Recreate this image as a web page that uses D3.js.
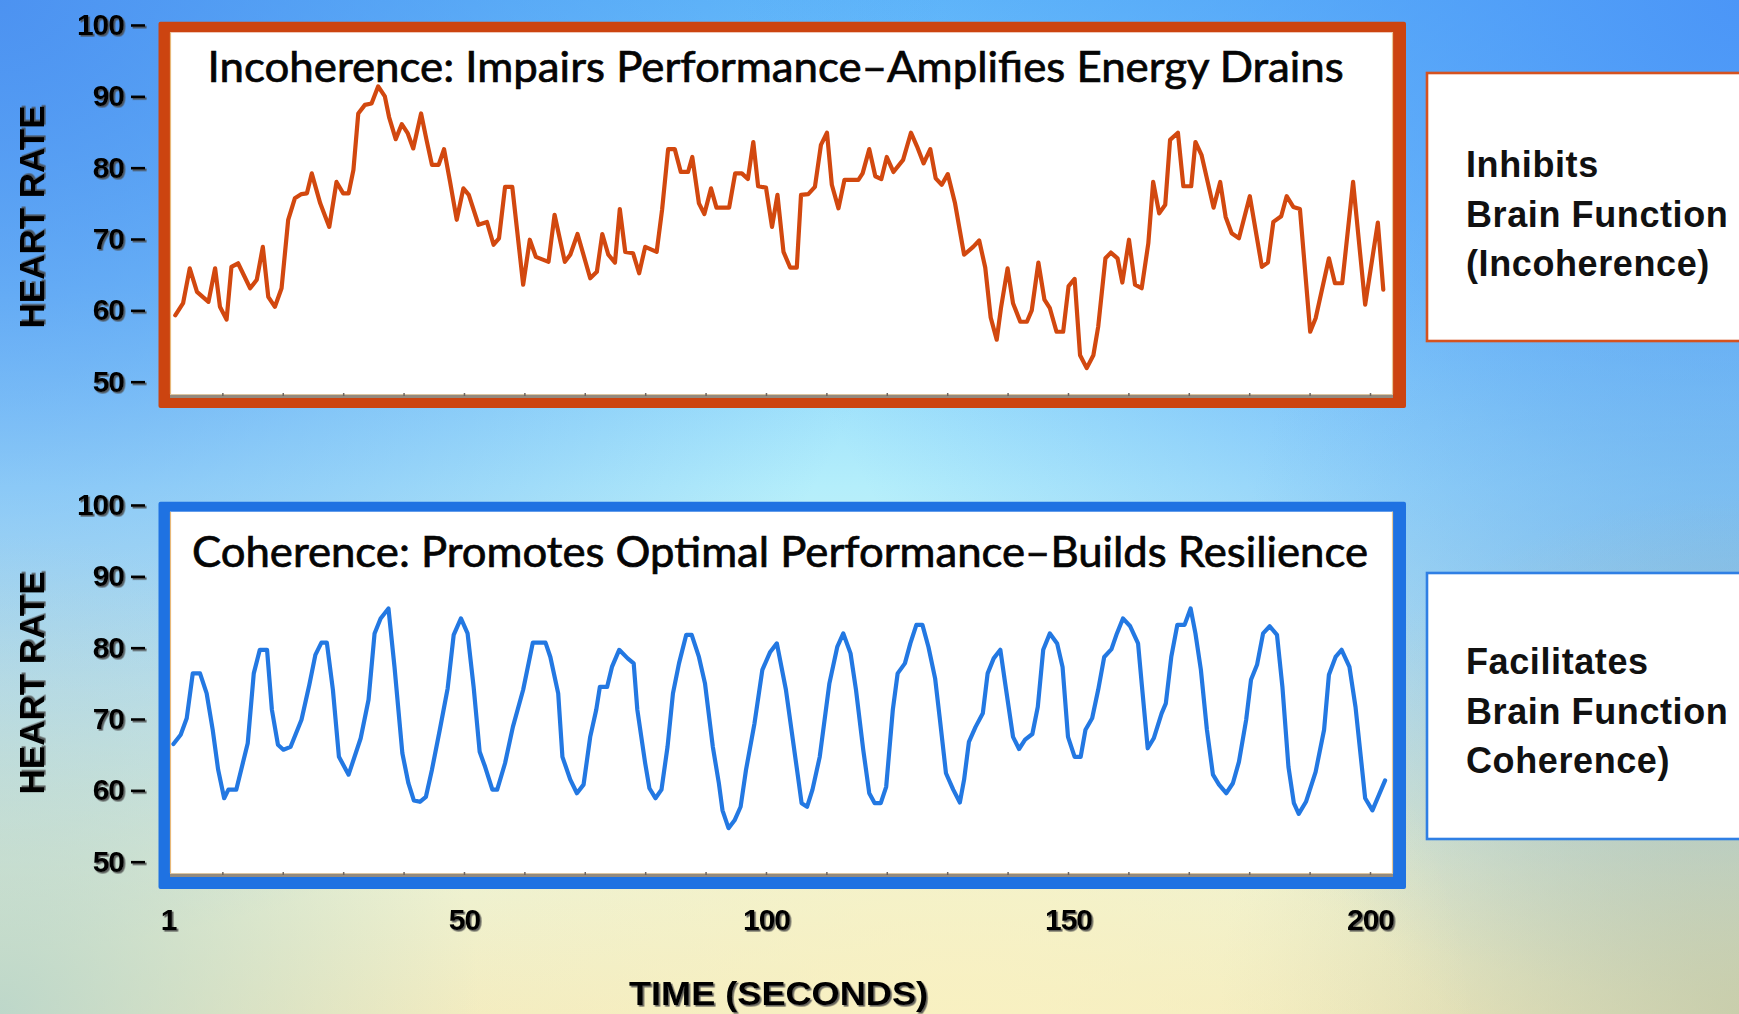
<!DOCTYPE html>
<html>
<head>
<meta charset="utf-8">
<script src="https://cdn.jsdelivr.net/npm/d3@7"></script>
<style>
  html, body { margin: 0; padding: 0; overflow: hidden; background: #8fd6f8; }
  svg { display: block; }
</style>
</head>
<body>
<script>
// ---- Heart-rate traces (seconds, beats per minute) ----
const incoherenceSeconds = [
  2.2, 3.5, 4.6, 5.8, 7.7, 8.8, 9.6, 10.7, 11.5, 12.6,
  14.6, 15.7, 16.7, 17.6, 18.7, 19.8, 20.9, 22.0, 23.1, 24.0,
  24.8, 26.2, 27.7, 28.9, 30.0, 30.9, 31.7, 32.5, 33.6, 34.7,
  35.8, 36.9, 37.6, 38.7, 39.7, 40.7, 41.6, 42.9, 43.8, 44.7,
  45.8, 46.7, 47.7, 48.8, 49.9, 50.8, 52.4, 53.8, 54.9, 55.8,
  56.8, 58.0, 59.8, 60.9, 61.9, 64.0, 65.0, 66.7, 67.6, 68.8,
  70.9, 72.0, 72.9, 73.9, 75.0, 75.8, 76.7, 78.0, 79.0, 80.0,
  81.9, 82.8, 83.8, 84.9, 85.9, 87.1, 87.8, 88.9, 89.8, 90.9,
  91.8, 93.9, 94.9, 96.0, 97.0, 97.9, 98.7, 100.0, 101.0, 101.9,
  102.9, 104.0, 105.1, 105.8, 107.0, 108.1, 109.1, 110.1, 110.9, 112.0,
  113.0, 115.3, 116.0, 117.1, 118.1, 119.1, 120.0, 121.1, 122.7, 124.0,
  125.0, 126.1, 127.2, 128.1, 129.1, 130.1, 131.3, 132.8, 134.3, 135.3,
  136.3, 137.2, 138.2, 138.9, 140.0, 140.9, 142.1, 143.2, 144.0, 145.1,
  146.1, 147.0, 148.1, 149.2, 150.1, 151.1, 152.0, 153.1, 154.2, 155.0,
  156.2, 157.1, 158.2, 159.0, 160.1, 161.1, 162.2, 163.3, 164.1, 165.1,
  166.1, 166.9, 168.2, 169.1, 170.4, 171.1, 172.1, 174.1, 175.2, 176.1,
  177.1, 178.3, 180.1, 182.1, 183.1, 184.0, 185.3, 186.2, 187.3, 188.4,
  190.1, 191.0, 193.2, 194.2, 195.4, 197.2, 199.2, 201.3, 202.2
];
const incoherenceBpm = [
  59.3, 61.0, 65.9, 62.6, 61.2, 65.9, 60.5, 58.7, 66.1, 66.6,
  63.1, 64.3, 68.9, 61.9, 60.5, 63.1, 72.7, 75.7, 76.3, 76.4,
  79.2, 75.0, 71.7, 78.0, 76.4, 76.4, 79.7, 87.6, 88.8, 89.0,
  91.4, 90.0, 87.1, 84.0, 86.1, 84.8, 82.7, 87.6, 83.9, 80.4,
  80.4, 82.6, 78.0, 72.7, 77.1, 76.2, 72.0, 72.4, 69.2, 70.1,
  77.3, 77.3, 63.6, 69.9, 67.5, 66.8, 73.4, 66.8, 67.8, 70.7,
  64.5, 65.4, 70.7, 67.8, 66.7, 74.2, 68.2, 68.0, 65.2, 68.9,
  68.2, 74.1, 82.6, 82.6, 79.4, 79.4, 81.5, 75.0, 73.5, 77.1,
  74.4, 74.4, 79.2, 79.2, 78.4, 83.6, 77.4, 77.2, 71.7, 76.2,
  68.2, 66.0, 66.0, 76.2, 76.3, 77.3, 83.2, 84.9, 77.6, 74.3,
  78.3, 78.3, 79.2, 82.6, 78.8, 78.4, 81.5, 79.4, 81.1, 84.9,
  83.0, 80.6, 82.6, 78.5, 77.6, 79.1, 75.0, 67.8, 68.9, 69.8,
  66.0, 59.0, 55.9, 60.3, 65.9, 61.0, 58.4, 58.4, 60.0, 66.7,
  61.5, 60.3, 57.0, 57.0, 63.4, 64.4, 53.7, 51.9, 53.7, 57.7,
  67.3, 68.1, 67.3, 63.9, 69.9, 63.6, 63.1, 69.4, 78.0, 73.6,
  74.8, 83.9, 84.9, 77.4, 77.4, 83.6, 81.8, 74.4, 78.0, 73.1,
  70.8, 70.1, 76.0, 66.1, 66.7, 72.4, 73.2, 76.0, 74.5, 74.2,
  57.0, 58.9, 67.3, 63.8, 63.8, 78.0, 60.8, 72.3, 62.9
];

const coherenceSeconds = [
  1.9, 3.1, 4.1, 5.1, 6.3, 7.4, 8.4, 9.3, 10.3, 11.0,
  12.3, 14.2, 15.2, 16.2, 17.4, 18.2, 19.2, 20.1, 21.3, 23.1,
  24.4, 25.4, 26.4, 27.3, 28.3, 29.3, 30.9, 32.9, 34.2, 35.2,
  36.2, 37.5, 38.5, 39.8, 40.8, 41.7, 42.7, 43.7, 44.7, 46.0,
  47.3, 48.3, 49.5, 50.6, 51.6, 52.6, 53.5, 54.7, 55.5, 56.8,
  58.1, 59.8, 61.4, 63.5, 64.3, 65.6, 66.3, 67.6, 68.7, 69.8,
  70.9, 71.9, 72.5, 73.7, 74.5, 75.7, 77.1, 78.1, 78.7, 80.0,
  80.7, 81.7, 82.7, 83.7, 84.6, 85.6, 86.8, 87.7, 88.9, 89.9,
  91.2, 92.2, 92.8, 93.8, 94.8, 95.8, 96.7, 98.1, 99.4, 100.7,
  101.8, 103.3, 104.3, 105.3, 105.9, 106.8, 107.7, 108.9, 110.5, 111.8,
  112.8, 114.0, 114.9, 116.1, 117.1, 118.0, 119.0, 119.9, 121.0, 121.8,
  123.0, 123.9, 124.9, 125.9, 126.9, 128.0, 128.8, 129.8, 131.0, 132.1,
  132.8, 133.6, 134.7, 135.9, 136.7, 137.7, 138.8, 139.6, 140.9, 141.9,
  142.9, 144.1, 145.0, 145.9, 147.0, 148.2, 149.1, 150.0, 151.1, 152.1,
  152.9, 154.0, 155.0, 156.0, 157.2, 158.1, 159.1, 160.3, 161.6, 162.2,
  163.2, 164.2, 165.5, 166.2, 167.1, 168.1, 169.3, 170.3, 171.1, 172.0,
  173.0, 174.0, 175.0, 176.2, 177.3, 178.3, 179.5, 180.3, 181.3, 182.3,
  183.4, 184.6, 185.5, 186.5, 187.4, 188.2, 189.4, 191.0, 192.4, 193.2,
  194.3, 195.3, 196.6, 197.6, 199.2, 200.4, 201.5, 202.5
];
const coherenceBpm = [
  66.5, 67.8, 70.1, 76.4, 76.4, 73.6, 68.5, 62.9, 58.9, 60.1,
  60.1, 66.6, 76.4, 79.7, 79.7, 71.3, 66.4, 65.7, 66.1, 69.9,
  74.8, 79.0, 80.7, 80.7, 74.1, 64.7, 62.2, 67.3, 72.7, 82.0,
  84.1, 85.5, 77.3, 65.2, 61.0, 58.6, 58.4, 59.1, 62.9, 68.5,
  74.3, 81.8, 84.1, 82.0, 74.5, 65.4, 63.3, 60.1, 60.1, 63.8,
  68.9, 74.1, 80.7, 80.7, 78.7, 73.6, 64.7, 61.5, 59.6, 60.8,
  67.5, 71.3, 74.5, 74.5, 77.3, 79.7, 78.5, 77.8, 71.3, 63.8,
  60.3, 58.9, 60.1, 66.1, 73.6, 77.8, 81.8, 81.8, 78.7, 75.0,
  66.1, 61.0, 57.2, 54.7, 55.8, 57.7, 62.9, 69.4, 76.9, 79.4,
  80.6, 74.1, 68.0, 61.9, 58.2, 57.7, 60.1, 64.7, 75.0, 80.1,
  82.0, 79.2, 74.1, 65.7, 59.6, 58.2, 58.2, 60.5, 71.3, 76.4,
  77.8, 80.6, 83.2, 83.2, 80.1, 75.7, 69.9, 62.4, 60.1, 58.3,
  61.5, 66.8, 68.9, 70.8, 76.4, 78.5, 79.7, 75.0, 67.5, 65.8,
  67.1, 67.9, 71.7, 79.7, 82.0, 80.6, 77.3, 67.5, 64.7, 64.7,
  68.5, 70.1, 74.1, 78.7, 79.8, 82.0, 84.1, 83.0, 80.6, 75.0,
  65.9, 67.3, 70.8, 72.2, 78.7, 83.2, 83.2, 85.5, 82.0, 76.9,
  68.5, 62.2, 60.8, 59.6, 61.0, 64.0, 69.9, 75.5, 77.6, 82.0,
  83.0, 81.8, 74.5, 63.3, 58.2, 56.7, 58.4, 62.6, 68.5, 76.2,
  78.7, 79.7, 77.3, 71.7, 58.9, 57.2, 59.4, 61.4
];

// ---- Axis ticks and labels ----
const bpmTicks = [50, 60, 70, 80, 90, 100];
const secondTicks = [1, 50, 100, 150, 200];
const yAxisLabel = "HEART RATE";
const xAxisLabel = "TIME (SECONDS)";
const panelTitles = [
  "Incoherence: Impairs Performance\u2013Amplifies Energy Drains",
  "Coherence: Promotes Optimal Performance\u2013Builds Resilience"
];
const noteLines = [
  ["Inhibits", "Brain Function", "(Incoherence)"],
  ["Facilitates", "Brain Function", "Coherence)"]
];

// ---- Page setup ----
const W = 1739, H = 1014;
const svg = d3.select("body").append("svg").attr("width", W).attr("height", H);
const defs = svg.append("defs");

function linear(id, x1, y1, x2, y2, stops) {
  const g = defs.append("linearGradient").attr("id", id)
    .attr("x1", x1).attr("y1", y1).attr("x2", x2).attr("y2", y2);
  stops.forEach(([o, c, a]) => g.append("stop").attr("offset", o)
    .attr("stop-color", c).attr("stop-opacity", a == null ? 1 : a));
}
function radial(id, cx, cy, r, stops) {
  const g = defs.append("radialGradient").attr("id", id)
    .attr("gradientUnits", "userSpaceOnUse")
    .attr("cx", cx).attr("cy", cy).attr("r", r);
  stops.forEach(([o, c, a]) => g.append("stop").attr("offset", o)
    .attr("stop-color", c).attr("stop-opacity", a));
}

linear("bgBase", 0, 0, 0, 1, [
  [0, "#62bafa"], [0.28, "#88d4fc"], [0.48, "#b4eefb"],
  [0.68, "#d6f2ea"], [0.86, "#eef2d2"], [1, "#f3ecc0"]
]);
radial("bgTL", 0, 0, 950, [[0, "#4a8ef0", 0.9], [0.55, "#4a8ef0", 0.35], [1, "#4a8ef0", 0]]);
radial("bgTR", W, 0, 1000, [[0, "#4a94f7", 0.95], [0.5, "#4a94f7", 0.4], [1, "#4a94f7", 0]]);
radial("bgMR", W, 600, 500, [[0, "#6cb0e8", 0.6], [1, "#6cb0e8", 0]]);
radial("bgBL", 0, H, 480, [[0, "#b0d2cc", 0.8], [1, "#b0d2cc", 0]]);
radial("bgBR", W, H, 520, [[0, "#c2c8a6", 0.8], [1, "#c2c8a6", 0]]);
radial("bgBC", 960, H + 40, 520, [[0, "#faf2c2", 0.8], [1, "#faf2c2", 0]]);

["bgBase", "bgTL", "bgTR", "bgMR", "bgBL", "bgBR", "bgBC"].forEach(id =>
  svg.append("rect").attr("width", W).attr("height", H).attr("fill", `url(#${id})`));

// soft grey drop shadow used by the axis lettering
const shadow = defs.append("filter").attr("id", "txtShadow")
  .attr("x", "-10%").attr("y", "-10%").attr("width", "130%").attr("height", "130%");
shadow.append("feDropShadow").attr("dx", 1.6).attr("dy", 1.6)
  .attr("stdDeviation", 0.6).attr("flood-color", "#4a4a4a").attr("flood-opacity", 0.85);

// ---- Scales ----
const x = d3.scaleLinear().domain([1, 200]).range([168, 1370]);

const panels = [
  {
    seconds: incoherenceSeconds, bpm: incoherenceBpm,
    y: d3.scaleLinear().domain([50, 100]).range([381.7, 25]),
    frame: { x0: 158.5, y0: 21.7, x1: 1406, y1: 408 },
    plot: { x0: 170, y0: 32.3, x1: 1393, y1: 394 },
    border: "#cc4410", line: "#d2480f",
    title: panelTitles[0], titleX0: 207.6, titleX1: 1343.8, titleBase: 81.7,
    labelCenter: 217,
    note: noteLines[0], noteBox: { x: 1427, y: 73, h: 268 }, noteBase: 177, noteStroke: "#d5521f"
  },
  {
    seconds: coherenceSeconds, bpm: coherenceBpm,
    y: d3.scaleLinear().domain([50, 100]).range([861.7, 505]),
    frame: { x0: 158.5, y0: 501.7, x1: 1406, y1: 889 },
    plot: { x0: 170, y0: 511.7, x1: 1393, y1: 873 },
    border: "#1f72e2", line: "#2378e2",
    title: panelTitles[1], titleX0: 192, titleX1: 1368, titleBase: 567,
    labelCenter: 683,
    note: noteLines[1], noteBox: { x: 1427, y: 573, h: 266 }, noteBase: 674, noteStroke: "#2f7fe4"
  }
];

panels.forEach(p => {
  const g = svg.append("g");
  const f = p.frame, pl = p.plot;

  // thick coloured frame
  g.append("rect").attr("x", f.x0).attr("y", f.y0)
    .attr("width", f.x1 - f.x0).attr("height", f.y1 - f.y0)
    .attr("rx", 2).attr("fill", p.border);
  // white plotting area
  g.append("rect").attr("x", pl.x0).attr("y", pl.y0)
    .attr("width", pl.x1 - pl.x0).attr("height", pl.y1 - pl.y0)
    .attr("fill", "#ffffff");
  // thin tan edges of the inner plot
  g.append("line").attr("x1", pl.x0 + 0.5).attr("x2", pl.x0 + 0.5)
    .attr("y1", pl.y0).attr("y2", pl.y1).attr("stroke", "#e8b878").attr("stroke-width", 1.2);
  g.append("line").attr("x1", pl.x1 - 0.5).attr("x2", pl.x1 - 0.5)
    .attr("y1", pl.y0).attr("y2", pl.y1).attr("stroke", "#e8c898").attr("stroke-width", 1.2);
  // grey baseline band with small ticks
  g.append("rect").attr("x", pl.x0).attr("y", pl.y1)
    .attr("width", pl.x1 - pl.x0).attr("height", 4).attr("fill", "#938a7e");
  g.append("line").attr("x1", pl.x0).attr("x2", pl.x1)
    .attr("y1", pl.y1 + 0.5).attr("y2", pl.y1 + 0.5).attr("stroke", "#dcc6a2").attr("stroke-width", 1);
  const minor = d3.axisTop(x).ticks(24).tickSize(3).tickFormat("");
  g.append("g").attr("transform", `translate(0,${pl.y1 + 2})`).call(minor)
    .call(s => s.select(".domain").remove())
    .call(s => s.selectAll(".tick line").attr("stroke", "#6e6660").attr("stroke-width", 1.5));

  // title inside the plot
  g.append("text")
    .attr("x", p.titleX0).attr("y", p.titleBase)
    .attr("textLength", p.titleX1 - p.titleX0).attr("lengthAdjust", "spacingAndGlyphs")
    .attr("font-family", "Lato, 'Open Sans', sans-serif").attr("font-size", 42)
    .attr("fill", "#050505").attr("stroke", "#050505").attr("stroke-width", 0.7)
    .text(p.title);

  // heart-rate trace
  const pts = p.seconds.map((s, i) => [s, p.bpm[i]]);
  const line = d3.line().x(d => x(d[0])).y(d => p.y(d[1]));
  g.append("path").datum(pts).attr("d", line)
    .attr("fill", "none").attr("stroke", p.line).attr("stroke-width", 4.2)
    .attr("stroke-linejoin", "round").attr("stroke-linecap", "round");

  // y axis
  const yAxis = d3.axisLeft(p.y).tickValues(bpmTicks).tickSize(14).tickPadding(7);
  const ya = g.append("g").attr("transform", "translate(145,0)").call(yAxis)
    .attr("filter", "url(#txtShadow)");
  ya.select(".domain").remove();
  ya.selectAll(".tick line").attr("stroke", "#000").attr("stroke-width", 2.6);
  ya.selectAll(".tick text")
    .attr("font-family", "'Liberation Sans Narrow', 'Arial Narrow', 'Liberation Sans', sans-serif")
    .attr("font-weight", "bold").attr("font-size", 30).attr("fill", "#000")
    .attr("letter-spacing", -1);

  // rotated axis title
  g.append("text")
    .attr("transform", `translate(44,${p.labelCenter}) rotate(-90)`)
    .attr("text-anchor", "middle")
    .attr("font-family", "'Liberation Sans', Arial, sans-serif")
    .attr("font-weight", "bold").attr("font-size", 35).attr("fill", "#000")
    .attr("filter", "url(#txtShadow)")
    .text(yAxisLabel);

  // side note box
  const nb = p.noteBox;
  g.append("rect").attr("x", nb.x).attr("y", nb.y)
    .attr("width", W - nb.x + 10).attr("height", nb.h)
    .attr("fill", "#ffffff").attr("stroke", p.noteStroke).attr("stroke-width", 2.6);
  g.append("g").selectAll("text").data(p.note).join("text")
    .attr("x", 1466).attr("y", (d, i) => p.noteBase + i * 49.5)
    .attr("font-family", "'Liberation Sans', Arial, sans-serif")
    .attr("font-weight", "bold").attr("font-size", 36).attr("fill", "#111")
    .attr("letter-spacing", 0.6)
    .text(d => d);
});

// ---- Shared time axis ----
const xAxis = d3.axisBottom(x).tickValues(secondTicks).tickSize(0).tickPadding(0);
const xa = svg.append("g").attr("transform", "translate(0,909)").call(xAxis)
  .attr("filter", "url(#txtShadow)");
xa.select(".domain").remove();
xa.selectAll(".tick text")
  .attr("font-family", "'Liberation Sans Narrow', 'Arial Narrow', 'Liberation Sans', sans-serif")
  .attr("font-weight", "bold").attr("font-size", 30).attr("fill", "#000")
  .attr("letter-spacing", -1);

svg.append("text")
  .attr("x", 629).attr("y", 1005)
  .attr("textLength", 299).attr("lengthAdjust", "spacingAndGlyphs")
  .attr("font-family", "'Liberation Sans', Arial, sans-serif")
  .attr("font-weight", "bold").attr("font-size", 33).attr("fill", "#000")
  .attr("filter", "url(#txtShadow)")
  .text(xAxisLabel);
</script>
</body>
</html>
